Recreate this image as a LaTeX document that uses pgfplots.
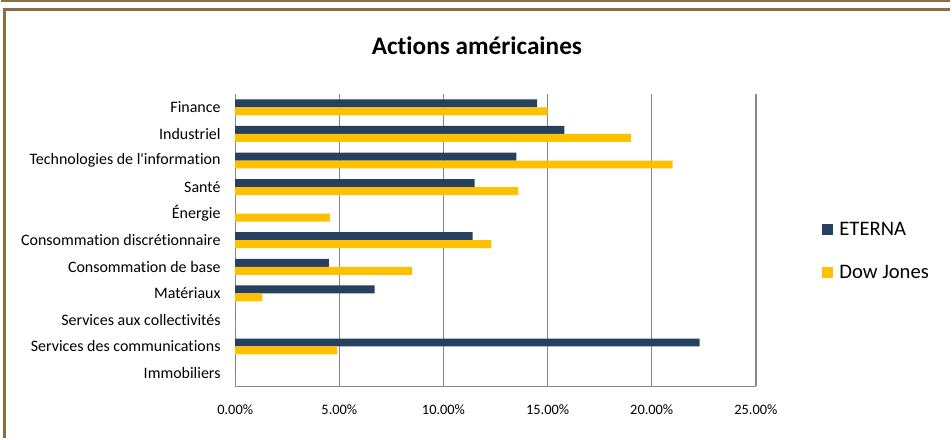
\documentclass[border=0pt]{standalone}
\usepackage{fontspec}
\setmainfont{Carlito}[Ligatures=NoCommon]
\usepackage{pgfplots}
\pgfplotsset{compat=1.18}

\definecolor{eterna}{RGB}{38,64,96}
\definecolor{dowjones}{RGB}{255,192,0}
\definecolor{framebrown}{RGB}{140,109,70}
\definecolor{gridgray}{RGB}{134,134,134}

% 1 px of the reference = 0.75pt
\begin{document}
\begin{tikzpicture}
\path (0pt,0pt) rectangle (714pt,329.25pt);
% frame
\draw[framebrown, line width=1.2pt] (0pt,328.9pt) -- (714pt,328.9pt);
\draw[framebrown, line width=2.4pt] (3pt,0pt) -- (3pt,322.1pt) -- (714pt,322.1pt);
\node[font=\bfseries\fontsize{19}{22}\selectfont] at (358pt,295pt) {Actions américaines};

\begin{axis}[
    at={(176.25pt,39pt)}, anchor=south west,
    width=391.5pt, height=219.75pt, scale only axis,
    xbar, bar width=6pt,
    xmin=0, xmax=25, ymin=-0.5, ymax=10.5,
    xtick={0,5,...,25},
    xticklabel={\pgfmathprintnumber[fixed,fixed zerofill,precision=2]{\tick}\%},
    /pgf/number format/assume math mode=true,
    ytick={0,...,10},
    yticklabels={Immobiliers,Services des communications,Services aux collectivités,Matériaux,Consommation de base,Consommation discrétionnaire,Énergie,Santé,Technologies de l\textquotesingle information,Industriel,Finance},
    axis x line*=bottom, axis y line*=left,
    axis line style={gridgray, line width=0.95pt, -},
    xmajorgrids, major grid style={gridgray, line width=0.95pt},
    major tick length=0pt,
    xticklabel style={font=\fontsize{10.8}{13}\selectfont, black, yshift=-10pt},
    yticklabel style={font=\fontsize{12}{14}\selectfont, black, xshift=-7.5pt},
    legend style={at={(1.118,0.462)}, anchor=west, draw=none, fill=none,
        font=\fontsize{15.5}{18}\selectfont, row sep=17pt,
        legend cell align=left},
    legend image code/.code={\fill[#1] (0pt,-4.2pt) rectangle (8.4pt,4.2pt);
        \path (11.4pt,0pt);},
]
\addplot[fill=eterna, draw=none, bar shift=3pt] coordinates {
    (14.5,10) (15.8,9) (13.5,8) (11.5,7) (0,6) (11.4,5)
    (4.5,4) (6.7,3) (0,2) (22.3,1) (0,0)};
\addplot[fill=dowjones, draw=none, bar shift=-3pt] coordinates {
    (15.0,10) (19.0,9) (21.0,8) (13.6,7) (4.55,6) (12.3,5)
    (8.5,4) (1.3,3) (0,2) (4.9,1) (0,0)};
\legend{ETERNA,Dow Jones}
\end{axis}
\end{tikzpicture}
\end{document}
